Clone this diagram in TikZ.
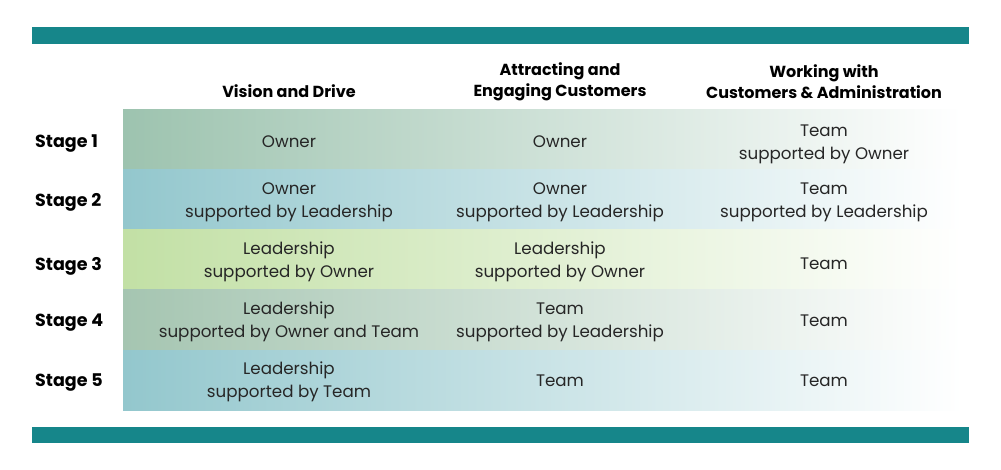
\documentclass[tikz,border=0pt]{standalone}
\usepackage{fontspec}
\setmainfont{Poppins}
\usetikzlibrary{positioning}

\definecolor{barteal}{HTML}{16868A}
\definecolor{sagegreen}{HTML}{9DC3AF}
\definecolor{seablue}{HTML}{93C7CD}
\definecolor{limegreen}{HTML}{C2E0A5}
\definecolor{greysage}{HTML}{A5C5B1}
\definecolor{celltext}{HTML}{262626}

\begin{document}
\begin{tikzpicture}[x=1pt,y=-1pt,
    head/.style={font=\fontsize{16}{21}\selectfont\bfseries, align=center, text=black},
    stagelabel/.style={font=\fontsize{17.5}{21}\selectfont\bfseries, anchor=west, inner sep=0pt},
    cell/.style={font=\fontsize{16.7}{23}\selectfont, align=center, text=celltext}]
    \useasboundingbox (0,0) rectangle (1001,470);

    % bars
    \fill[barteal] (32,27) rectangle (969,44);
    \fill[barteal] (32,427) rectangle (969,443);

    % row bands
    \shade[left color=sagegreen, right color=white] (123,110) rectangle (962,170);
    \shade[left color=seablue, right color=white] (123,170) rectangle (962,230);
    \shade[left color=limegreen, right color=white] (123,230) rectangle (962,290);
    \shade[left color=greysage, right color=white] (123,290) rectangle (962,350);
    \shade[left color=seablue, right color=white] (123,350) rectangle (962,410);

    % headers
    \node[head] (vision) at (289,91) {Vision and Drive};
    \node[head] (attract) at (560,82) {Attracting and\\Engaging Customers};
    \node[head] (working) at (824,82) {Working with\\Customers \& Administration};

    % stages
    \node[stagelabel] (stage1) at (35,144) {Stage 1};
    \node[stagelabel] (stage2) at (35,202) {Stage 2};
    \node[stagelabel] (stage3) at (35,266) {Stage 3};
    \node[stagelabel] (stage4) at (35,323) {Stage 4};
    \node[stagelabel] (stage5) at (35,383) {Stage 5};

    % cells
    \node[cell] (vision1) at (289,142) {Owner};
    \node[cell] (attract1) at (560,142) {Owner};
    \node[cell] (working1) at (824,144) {Team\\supported by Owner};
    \node[cell] (vision2) at (289,202) {Owner\\supported by Leadership};
    \node[cell] (attract2) at (560,202) {Owner\\supported by Leadership};
    \node[cell] (working2) at (824,202) {Team\\supported by Leadership};
    \node[cell] (vision3) at (289,262) {Leadership\\supported by Owner};
    \node[cell] (attract3) at (560,262) {Leadership\\supported by Owner};
    \node[cell] (working3) at (824,264) {Team};
    \node[cell] (vision4) at (289,322) {Leadership\\supported by Owner and Team};
    \node[cell] (attract4) at (560,322) {Team\\supported by Leadership};
    \node[cell] (working4) at (824,321) {Team};
    \node[cell] (vision5) at (289,382) {Leadership\\supported by Team};
    \node[cell] (attract5) at (560,381) {Team};
    \node[cell] (working5) at (824,381) {Team};
\end{tikzpicture}
\end{document}
